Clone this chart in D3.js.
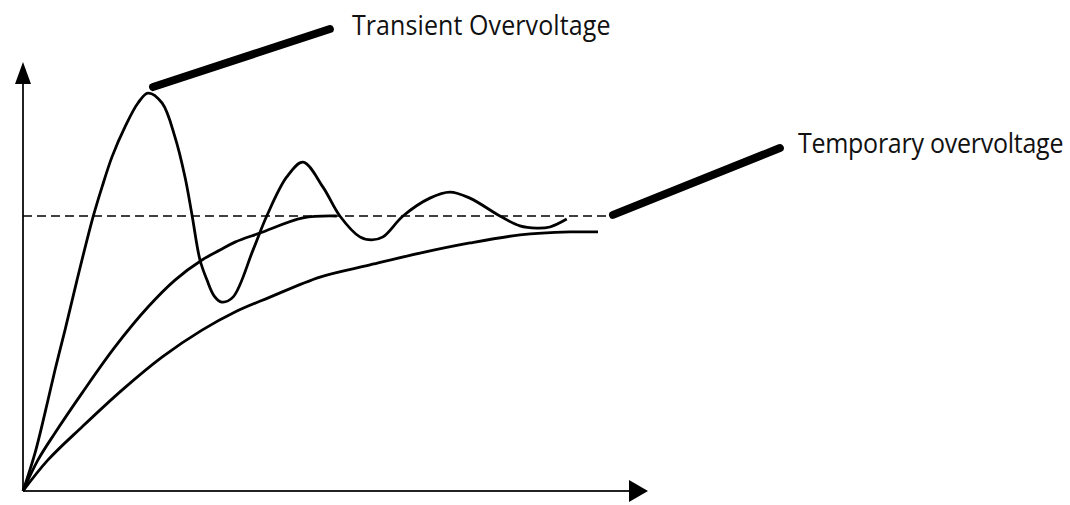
<!DOCTYPE html>
<html><head><meta charset="utf-8">
<script src="https://cdn.jsdelivr.net/npm/d3@7"></script>
<style>body{margin:0;background:#fff}svg{display:block}</style>
</head><body><svg id="c" width="1070" height="505"></svg>
<script>
// time (arbitrary units) and voltage (per-unit, steady state = 1)
const transientT = [0,0.192,0.352,0.512,0.672,0.864,1.12,1.264,1.424,1.632,1.84,2.0,2.224,2.432,2.592,2.704,2.832,2.944,3.06,3.18,3.36,3.68,3.90,4.22,4.48,4.80,5.07,5.39,5.58,5.76,6.08,6.51,6.83,7.15,7.63,7.95,8.22,8.43,8.70];
const transientV = [0,0.138,0.284,0.44,0.585,0.767,0.996,1.105,1.215,1.324,1.411,1.447,1.411,1.287,1.142,1.004,0.84,0.767,0.709,0.687,0.705,0.876,1.0,1.142,1.196,1.105,1.0,0.924,0.913,0.924,1.0,1.065,1.087,1.065,1.0,0.964,0.956,0.96,0.989];
const middleT = [0,0.24,0.512,0.944,1.472,2.0,2.432,2.864,3.152,3.392,3.792,4.48,5.02];
const middleV = [0,0.113,0.211,0.356,0.524,0.669,0.767,0.84,0.876,0.905,0.938,0.993,1.0];
const slowT = [0,0.4,0.944,1.584,2.224,2.864,3.392,3.952,4.752,5.552,6.352,7.152,7.952,8.752,9.2];
const slowV = [0,0.113,0.233,0.367,0.487,0.585,0.651,0.705,0.778,0.822,0.865,0.902,0.931,0.942,0.942];
const steadyLevel = 1.0;
const steadyEnd = 9.4;
const labels = ["Transient Overvoltage", "Temporary overvoltage"];
const leaderT = [[2.08, 4.91], [9.44, 12.11]];
const leaderV = [[1.469, 1.68], [1.004, 1.247]];

const svg = d3.select("#c");
const x = d3.scaleLinear().domain([0, 10]).range([23, 648]);
const y = d3.scaleLinear().domain([0, 1.56]).range([491, 62]);

// axes
const axisColor = "#222";
svg.append("line").attr("x1", x(0)).attr("y1", y(0)).attr("x2", x(0)).attr("y2", y(1.5))
  .attr("stroke", axisColor).attr("stroke-width", 2);
svg.append("line").attr("x1", x(0)).attr("y1", y(0)).attr("x2", x(9.7)).attr("y2", y(0))
  .attr("stroke", axisColor).attr("stroke-width", 2);
// arrowheads
const yt = y(1.56), xt = x(10);
svg.append("path").attr("d", `M${x(0)},${yt} L${x(0)-8},${yt+22} L${x(0)+8},${yt+22} Z`).attr("fill", "#000");
svg.append("path").attr("d", `M${xt},${y(0)} L${xt-19},${y(0)-11} L${xt-19},${y(0)+11} Z`).attr("fill", "#000");

// steady-state dashed line
svg.append("line").attr("x1", x(0)).attr("x2", x(steadyEnd)).attr("y1", y(steadyLevel)).attr("y2", y(steadyLevel))
  .attr("stroke", "#000").attr("stroke-width", 1.6).attr("stroke-dasharray", "9,5");

const line = d3.line().x(d => x(d[0])).y(d => y(d[1])).curve(d3.curveCatmullRom.alpha(0.5));
const series = [[transientT, transientV], [middleT, middleV], [slowT, slowV]];
series.forEach(([T, V]) => {
  svg.append("path").attr("d", line(T.map((t, i) => [t, V[i]])))
    .attr("fill", "none").attr("stroke", "#000").attr("stroke-width", 2.8).attr("stroke-linejoin", "round");
});

// leaders and labels
leaderT.forEach((T, i) => {
  svg.append("line").attr("x1", x(T[0])).attr("y1", y(leaderV[i][0])).attr("x2", x(T[1])).attr("y2", y(leaderV[i][1]))
    .attr("stroke", "#000").attr("stroke-width", 8).attr("stroke-linecap", "round");
});
const labelPos = [[x(leaderT[0][1]) + 22, y(leaderV[0][1]) + 6, 0.1], [x(leaderT[1][1]) + 18, y(leaderV[1][1]) + 5, -0.25]];
labels.forEach((txt, i) => {
  svg.append("text")
    .attr("transform", `translate(${labelPos[i][0]},${labelPos[i][1]}) scale(1,1.12)`)
    .attr("font-family", "Open Sans, sans-serif").attr("font-size", 25).attr("fill", "#111")
    .attr("letter-spacing", labelPos[i][2])
    .text(txt);
});
</script></body></html>
